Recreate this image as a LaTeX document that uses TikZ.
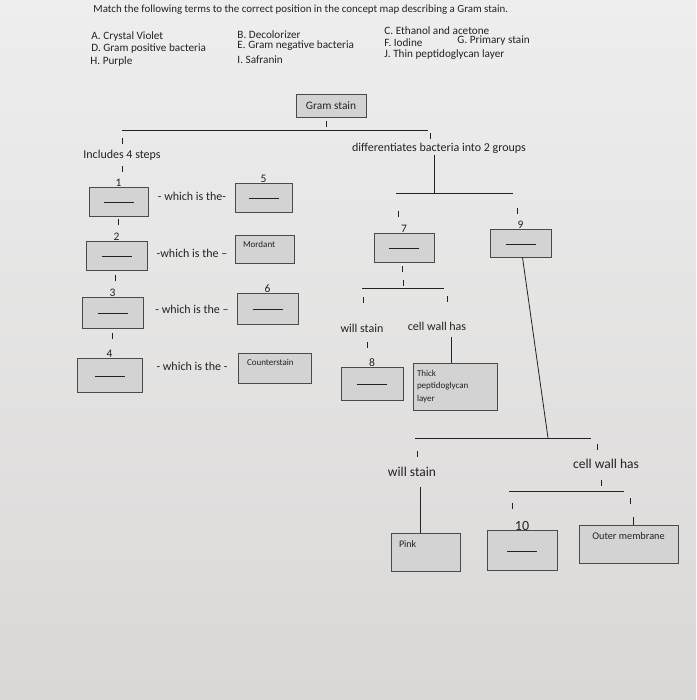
\documentclass[tikz,border=0pt]{standalone}
\usepackage{fontspec}
\setmainfont{Carlito}
\usetikzlibrary{positioning}
\definecolor{cink}{HTML}{232323}
\definecolor{cedge}{HTML}{4A4A4A}
\definecolor{cfill}{HTML}{D3D3D3}
\definecolor{cpaperhi}{HTML}{EEEEEE}
\definecolor{cpaperlo}{HTML}{DAD8D7}
\newcommand\ansline{\raisebox{-3pt}{\rule{30pt}{0.6pt}}}
\tikzset{
  every picture/.style={line width=0.9pt, text=cink},
  box/.style={draw=cedge, fill=cfill, minimum width=60pt, minimum height=29pt, inner sep=2pt, font=\fontsize{11.4}{12}\selectfont},
  hline/.style={draw=cink, line width=0.8pt},
  tick/.style={fill=cink, inner sep=0pt, minimum width=1pt, minimum height=6pt},
  term/.style={font=\fontsize{11.2}{12}\selectfont, anchor=west, inner sep=0pt},
  conn/.style={font=\fontsize{12}{14}\selectfont, inner sep=1pt},
  boxtext/.style={font=\fontsize{9}{10}\selectfont, inner sep=0pt},
  num/.style={font=\fontsize{11.5}{12}\selectfont, inner sep=0.5pt},
}

\begin{document}
\begin{tikzpicture}[x=1pt, y=-1pt]
  \shade[top color=cpaperhi, bottom color=cpaperlo] (0,0) rectangle (696,700);
  \useasboundingbox (0,0) rectangle (696,700);
  % ---- heading and the list of terms ----
  \node[term, font=\fontsize{10.9}{12}\selectfont] (title) at (93,10) {Match the following terms to the correct position in the concept map describing a Gram stain.};
  \node[term] (ta) at (91,37) {A. Crystal Violet};
  \node[term] (td) at (91,49) {D. Gram positive bacteria};
  \node[term] (th) at (90,62) {H. Purple};
  \node[term] (tb) at (237,35) {B. Decolorizer};
  \node[term] (te) at (237,46) {E. Gram negative bacteria};
  \node[term] (ti) at (237,60) {I. Safranin};
  \node[term] (tc) at (384,31) {C. Ethanol and acetone};
  \node[term] (tf) at (384,43) {F. Iodine};
  \node[term] (tg) at (457,41) {G. Primary stain};
  \node[term] (tj) at (384,55) {J. Thin peptidoglycan layer};
  % ---- root ----
  \node[box, minimum width=70pt, minimum height=23pt] (gram) at (331,106) {Gram stain};
  \coordinate (r1w) at (122,130); \coordinate (r1e) at (428,130);
  \draw[hline] (r1w) -- (r1e);
  \node[conn] (inc) at (122,155) {Includes 4 steps};
  \node[conn] (diff) at (439,148) {differentiates bacteria into 2 groups};
  % ---- the four steps ----
  \node[box, minimum width=59pt] (s1) at (118.5,201.5) {\ansline};
  \node[box, minimum width=57pt] (s5) at (263.5,197.5) {\ansline};
  \node[box, minimum width=61pt] (s2) at (116.5,255.5) {\ansline};
  \node[box, minimum width=59pt, minimum height=28pt] (mord) at (264.5,249) {};
  \node[box, minimum width=61pt, minimum height=31pt] (s3) at (112.5,312.5) {\ansline};
  \node[box, minimum width=61pt, minimum height=31pt] (s6) at (267.5,308.5) {\ansline};
  \node[box, minimum width=65pt, minimum height=34pt] (s4) at (109.5,375) {\ansline};
  \node[box, minimum width=73pt, minimum height=30pt] (ctr) at (274.5,368) {};
  \node[boxtext, anchor=north west] (mordt) at ([xshift=8pt, yshift=-6pt]mord.north west) {Mordant};
  \node[boxtext, anchor=north west] (ctrt) at ([xshift=9pt, yshift=-6pt]ctr.north west) {Counterstain};
  \foreach \t [count=\i] in {- which is the-, -which is the --, - which is the --, - which is the -}
    \node[conn] (w\i) at (192,140+\i*56.5) {\t};
  \foreach \n/\b in {1/s1, 2/s2, 3/s3, 4/s4, 5/s5, 6/s6}
    \node[num, above=-1pt of \b] (n\n) {\n};
  % ---- gram positive side ----
  \coordinate (r2w) at (396,193); \coordinate (r2e) at (513,193); \coordinate (r2m) at (434,193);
  \draw[hline] (r2w) -- (r2e);
  \draw[hline] (diff.south -| r2m) -- (r2m);
  \node[box] (s7) at (404,247.5) {\ansline};
  \node[box, minimum width=61pt, minimum height=28pt] (s9) at (520.5,243) {\ansline};
  \coordinate (r3w) at (362,288); \coordinate (r3e) at (444,288);
  \draw[hline] (r3w) -- (r3e);
  \node[conn] (ws1) at (362,328) {will stain};
  \node[conn] (cw1) at (437,326) {cell wall has};
  \node[box, minimum width=62pt, minimum height=33pt] (s8) at (372,383.5) {\ansline};
  \node[box, minimum height=47pt, text width=76pt, inner sep=4pt, align=left, font=\fontsize{9}{12.5}\selectfont] (thick) at (455,386.5) {Thick\\peptidoglycan\\layer};
  \coordinate (v1) at (451,337);
  \draw[hline] (v1) -- (v1 |- thick.north);
  \foreach \n/\b in {7/s7, 8/s8, 9/s9}
    \node[num, above=-1pt of \b] (n\n) {\n};
  % ---- gram negative side ----
  \coordinate (r4w) at (415,438); \coordinate (r4e) at (591,438); \coordinate (r4m) at (548,438);
  \draw[hline] (r4w) -- (r4e);
  \draw[hline] ([xshift=2pt]s9.south) -- (r4m);
  \node[conn, font=\fontsize{13.5}{14}\selectfont] (ws2) at (412,472) {will stain};
  \node[conn, font=\fontsize{13.5}{14}\selectfont] (cw2) at (606,464) {cell wall has};
  \coordinate (r5w) at (509,491); \coordinate (r5e) at (624,491);
  \draw[hline] (r5w) -- (r5e);
  \node[box, minimum width=69pt, minimum height=38pt] (pink) at (425.5,552) {};
  \node[box, minimum width=70pt, minimum height=40pt] (s10) at (522,550) {\ansline};
  \node[box, minimum width=99pt, minimum height=38pt] (outer) at (628.5,544) {};
  \node[boxtext, anchor=north west, font=\fontsize{10}{11}\selectfont] (pinkt) at ([xshift=8pt, yshift=-8pt]pink.north west) {Pink};
  \node[boxtext, anchor=north, font=\fontsize{10.3}{11}\selectfont] (outert) at ([yshift=-7pt]outer.north) {Outer membrane};
  \node[num, font=\fontsize{14}{14}\selectfont, above=-2pt of s10] (n10) {10};
  \coordinate (v2) at (420,487);
  \draw[hline] (v2) -- (v2 |- pink.north);
  \coordinate (v3) at (633,517);
  \draw[hline] (v3) -- (v3 |- outer.north);
  % ---- little connector marks ----
  \foreach \p [count=\i] in {(326,124), (122,141), (122,169), (430,136), (118,222), (115,278), (112,336),
      (398,214), (517,211), (402,269), (403,283), (363,300), (447,299), (367,345),
      (417,454), (597,447), (601,483), (512,506), (630,501)}
    \node[tick] (k\i) at \p {};
\end{tikzpicture}
\end{document}
